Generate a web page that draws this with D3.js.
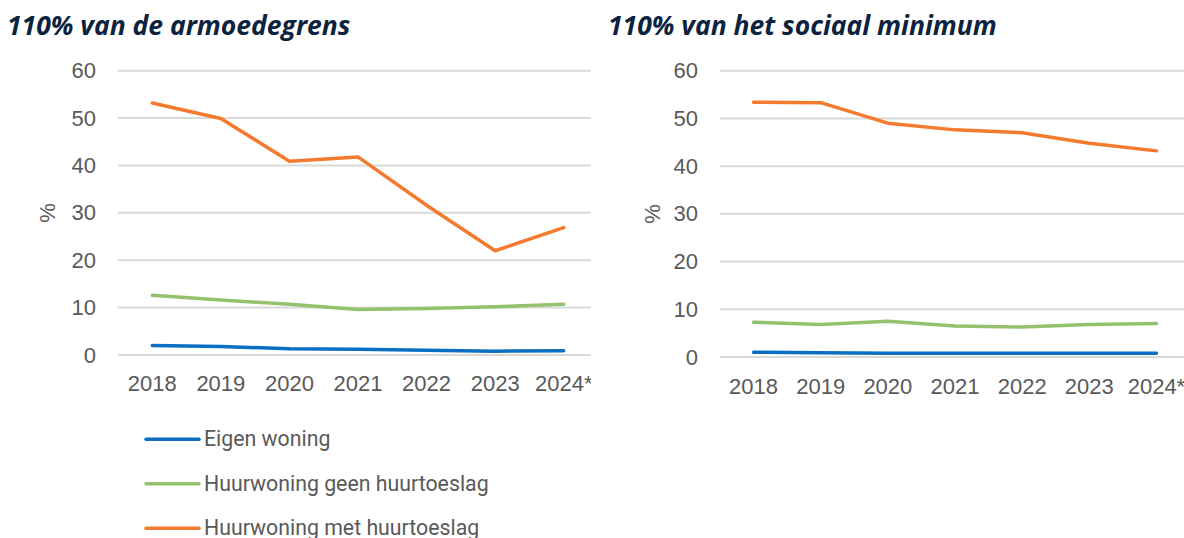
<!DOCTYPE html>
<html>
<head>
<meta charset="utf-8">
<script src="https://cdn.jsdelivr.net/npm/d3@7"></script>
<style>
  body { margin: 0; background: #fff; }
  svg { display: block; }
  .tick-label { font-family: "Liberation Sans", Arial, sans-serif; font-size: 22px; fill: #595959; }
  .title { font-family: "Open Sans", "Noto Sans", sans-serif; font-weight: bold; font-style: italic; font-size: 26.5px; fill: #0c2340; }
  .legend-label { font-family: Roboto, "Noto Sans", sans-serif; font-size: 21.3px; fill: #595959; }
</style>
</head>
<body>
<svg id="chart" width="1184" height="538"></svg>
<script>
// categories and tick values
var years = ["2018", "2019", "2020", "2021", "2022", "2023", "2024*"];
var yTicks = [0, 10, 20, 30, 40, 50, 60];
var seriesNames = ["Eigen woning", "Huurwoning geen huurtoeslag", "Huurwoning met huurtoeslag"];
var seriesColors = ["#0a6fc2", "#93c16d", "#f47a2f"];

// 110% van de armoedegrens
var armoedeEigen = [2.0, 1.8, 1.3, 1.2, 1.0, 0.8, 0.9];
var armoedeGeenToeslag = [12.6, 11.6, 10.7, 9.6, 9.8, 10.2, 10.7];
var armoedeMetToeslag = [53.2, 49.9, 40.9, 41.8, 31.6, 22.0, 26.9];

// 110% van het sociaal minimum
var sociaalEigen = [1.0, 0.9, 0.8, 0.8, 0.8, 0.8, 0.8];
var sociaalGeenToeslag = [7.3, 6.8, 7.5, 6.5, 6.3, 6.8, 7.0];
var sociaalMetToeslag = [53.4, 53.3, 49.0, 47.6, 47.0, 44.8, 43.2];

var svg = d3.select("#chart");

/**
 * Draw one line chart panel
 */
function drawPanel(opt) {
	var g = svg.append("g");

	// white background, the right panel overlaps the left one a bit
	g.append("rect")
		.attr("x", opt.bgX).attr("y", 40)
		.attr("width", opt.bgW).attr("height", 380)
		.attr("fill", "#fff");

	g.append("text")
		.attr("class", "title")
		.attr("x", opt.titleX).attr("y", 35)
		.text(opt.title);

	var xScale = d3.scaleBand()
		.domain(years)
		.range([opt.x0, opt.x1]);

	var yScale = d3.scaleLinear()
		.domain([0, 60])
		.range([opt.y0, opt.y1]);

	// gridlines
	g.append("g").selectAll("line")
		.data(yTicks)
		.enter().append("line")
		.attr("x1", opt.x0)
		.attr("x2", Math.min(opt.x1, opt.gridEnd))
		.attr("y1", function (d) { return yScale(d); })
		.attr("y2", function (d) { return yScale(d); })
		.attr("stroke", "#d9d9d9")
		.attr("stroke-width", 2);

	// y axis
	var yAxis = d3.axisLeft(yScale).tickValues(yTicks).tickSize(0).tickPadding(22);
	var yG = g.append("g")
		.attr("transform", "translate(" + opt.x0 + ",0)")
		.call(yAxis);
	yG.select(".domain").remove();
	yG.selectAll("text").attr("class", "tick-label").attr("fill", null);

	// x axis
	var xAxis = d3.axisBottom(xScale).tickSize(0).tickPadding(opt.xPad);
	var xG = g.append("g")
		.attr("transform", "translate(0," + opt.y0 + ")")
		.call(xAxis);
	xG.select(".domain").remove();
	xG.selectAll("text").attr("class", "tick-label").attr("fill", null);

	g.append("text")
		.attr("class", "tick-label")
		.attr("transform", "translate(" + opt.pctX + "," + yScale(30) + ") rotate(-90)")
		.attr("text-anchor", "middle")
		.attr("dy", "0.35em")
		.text("%");

	var line = d3.line()
		.x(function (d, i) { return xScale(years[i]) + xScale.bandwidth() / 2; })
		.y(function (d) { return yScale(d); });

	g.append("g").selectAll("path")
		.data(opt.series)
		.enter().append("path")
		.attr("d", line)
		.attr("fill", "none")
		.attr("stroke", function (d, i) { return seriesColors[i]; })
		.attr("stroke-width", 3.5)
		.attr("stroke-linejoin", "round")
		.attr("stroke-linecap", "round");
}

drawPanel({
	title: "110% van de armoedegrens",
	titleX: 7,
	bgX: 0, bgW: 591,
	x0: 118, x1: 598, gridEnd: 591,
	y0: 355, y1: 70.7,
	xPad: 20, pctX: 47,
	series: [armoedeEigen, armoedeGeenToeslag, armoedeMetToeslag]
});

drawPanel({
	title: "110% van het sociaal minimum",
	titleX: 608,
	bgX: 591, bgW: 593,
	x0: 720, x1: 1190, gridEnd: 1190,
	y0: 357, y1: 70.7,
	xPad: 21, pctX: 652,
	series: [sociaalEigen, sociaalGeenToeslag, sociaalMetToeslag]
});

// legend
var legend = svg.append("g").selectAll("g")
	.data(seriesNames)
	.enter().append("g")
	.attr("transform", function (d, i) { return "translate(146," + (439.3 + i * 44.5) + ")"; });

legend.append("line")
	.attr("x1", 0).attr("x2", 53)
	.attr("stroke", function (d, i) { return seriesColors[i]; })
	.attr("stroke-width", 3.5)
	.attr("stroke-linecap", "round");

legend.append("text")
	.attr("class", "legend-label")
	.attr("x", 58)
	.attr("y", 7)
	.text(function (d) { return d; });
</script>
</body>
</html>
